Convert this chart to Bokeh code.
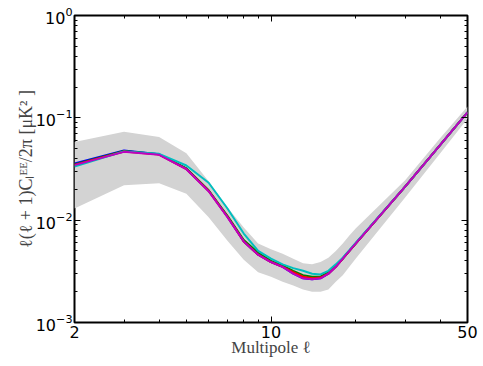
from bokeh.plotting import figure
from bokeh.models import FixedTicker, LogAxis, Title, Range1d, LogTickFormatter, CustomJSTickFormatter
from bokeh.embed import file_html
from bokeh.resources import INLINE

# Multipoles
ell = [2, 3, 4, 5, 6, 7, 8, 9, 10, 11, 12, 13, 14, 15, 16, 17, 18, 19, 20, 30, 40, 50]

# Spectra (blue, green, red, cyan, magenta)
cl_blue = [0.0358, 0.0480, 0.0440, 0.0318, 0.0194, 0.0108, 0.0062, 0.0046, 0.0039, 0.0035, 0.0030,
           0.0027, 0.00265, 0.0027, 0.0030, 0.0035, 0.0042, 0.0050, 0.0059, 0.0213, 0.0545, 0.113]
cl_green = [0.0350, 0.0475, 0.0440, 0.0320, 0.0196, 0.0110, 0.0064, 0.0048, 0.0040, 0.0036, 0.0032,
            0.0029, 0.0028, 0.0028, 0.0031, 0.0036, 0.0042, 0.0050, 0.0059, 0.0213, 0.0545, 0.113]
cl_red = [0.0347, 0.0468, 0.0437, 0.0316, 0.0193, 0.0108, 0.0062, 0.0046, 0.0039, 0.0035, 0.0031,
          0.0028, 0.0027, 0.00275, 0.0030, 0.0035, 0.0042, 0.0050, 0.0059, 0.0213, 0.0545, 0.113]
cl_cyan = [0.0335, 0.0470, 0.0445, 0.0342, 0.0232, 0.0130, 0.0074, 0.0050, 0.0042, 0.0037, 0.0034,
           0.0032, 0.0030, 0.00295, 0.0032, 0.0037, 0.0043, 0.0051, 0.0060, 0.0213, 0.0545, 0.113]
cl_magenta = [0.0345, 0.0465, 0.0435, 0.0315, 0.0192, 0.0107, 0.0062, 0.0046, 0.0039, 0.0035, 0.0030,
              0.0027, 0.00265, 0.0027, 0.0030, 0.0035, 0.0042, 0.0050, 0.0059, 0.0213, 0.0545, 0.113]

# Uncertainty band
band_hi = [0.058, 0.073, 0.065, 0.045, 0.0240, 0.0134, 0.0085, 0.0059, 0.0052, 0.0047, 0.0042,
           0.0038, 0.0037, 0.0039, 0.0043, 0.0050, 0.0059, 0.0071, 0.0083, 0.0245, 0.0635, 0.129]
band_lo = [0.0130, 0.0220, 0.0229, 0.0181, 0.0107, 0.0063, 0.0041, 0.0031, 0.0028, 0.0025, 0.0023,
           0.0021, 0.0020, 0.0020, 0.0021, 0.0025, 0.0029, 0.0035, 0.0042, 0.0167, 0.0450, 0.098]

# Ticks
x_ticks = [2, 10, 50]
x_tick_labels = ["2", "10", "50"]
x_minor = [3, 4, 5, 6, 7, 8, 9, 20, 30, 40]
y_ticks = [0.001, 0.01, 0.1, 1]   # labelled 10^-3 ... 10^0
y_minor = [k * t for t in y_ticks[:-1] for k in range(2, 10)]

x_label = "Multipole \u2113"
y_label = "\u2113(\u2113 + 1)C\u2097\u1d31\u1d31/2\u03c0 [\u03bcK\u00b2 ]"

p = figure(width=483, height=366, x_axis_type="log", y_axis_type="log",
           x_range=Range1d(2, 50), y_range=Range1d(1e-3, 1),
           output_backend="svg", toolbar_location=None,
           min_border_left=74, min_border_right=16, min_border_top=15, min_border_bottom=44)
p.background_fill_color = "white"
p.border_fill_color = "white"
p.outline_line_color = "black"
p.outline_line_width = 2
p.grid.visible = False

p.varea(x=ell, y1=band_lo, y2=band_hi, fill_color="#d3d3d3")
for ys, col in [(cl_blue, "#0000ff"), (cl_green, "#008000"), (cl_red, "#ff0000"),
                (cl_cyan, "#00bfbf"), (cl_magenta, "#bf00bf")]:
    p.line(ell, ys, line_color=col, line_width=2)

x_over = {t: l for t, l in zip(x_ticks, x_tick_labels)}

def style(ax, labels=True):
    ax.axis_line_color = None
    ax.major_tick_in = 6
    ax.major_tick_out = 0
    ax.minor_tick_in = 3
    ax.minor_tick_out = 0
    ax.major_tick_line_color = "black"
    ax.minor_tick_line_color = "black"
    if labels:
        ax.major_label_text_font = "DejaVu Sans"
        ax.major_label_text_font_size = "16px"
        ax.major_label_text_color = "black"
    else:
        ax.formatter = CustomJSTickFormatter(code="return ''")
        ax.major_label_text_font_size = "1px"
        ax.major_label_text_color = None
        ax.major_label_standoff = 0

xa = p.xaxis[0]
xa.ticker = FixedTicker(ticks=x_ticks, minor_ticks=x_minor)
xa.major_label_overrides = x_over
style(xa)
xa.major_label_standoff = 3
xa.axis_label = x_label
xa.axis_label_text_font = "Liberation Serif"
xa.axis_label_text_font_style = "normal"
xa.axis_label_text_font_size = "17px"
xa.axis_label_standoff = -3

ya = p.yaxis[0]
ya.ticker = FixedTicker(ticks=y_ticks, minor_ticks=y_minor)
ya.formatter = LogTickFormatter()
style(ya)
ya.major_label_standoff = 2

ytitle = Title(text=y_label, align="center", offset=30, text_font="Liberation Serif",
               text_font_size="18px", text_font_style="normal", standoff=-6)
p.add_layout(ytitle, "left")

top = LogAxis(ticker=FixedTicker(ticks=x_ticks, minor_ticks=x_minor))
style(top, labels=False)
p.add_layout(top, "above")
right = LogAxis(ticker=FixedTicker(ticks=y_ticks, minor_ticks=y_minor))
style(right, labels=False)
p.add_layout(right, "right")

open("out.html", "w").write(file_html(p, INLINE))
